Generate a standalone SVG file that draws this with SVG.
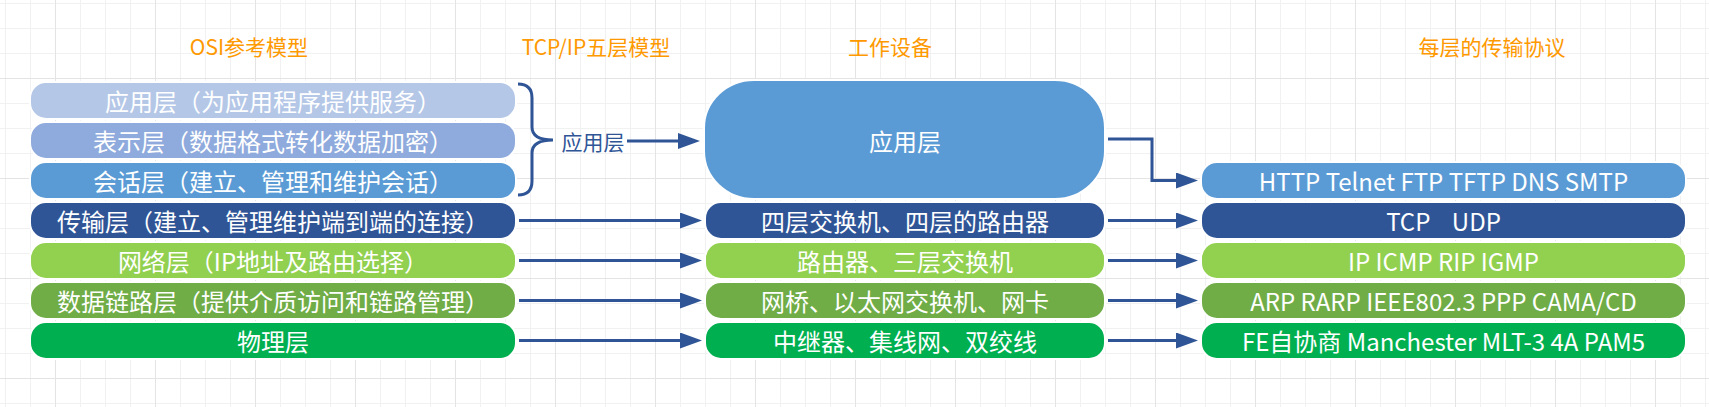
<svg xmlns="http://www.w3.org/2000/svg" width="1709" height="407" viewBox="0 0 1709 407">
<style>
.hdr{font-family:"Noto Sans CJK SC","Noto Sans",sans-serif;font-size:21px;fill:#FF9900;text-anchor:middle;dominant-baseline:central}
.t{font-family:"Noto Sans CJK SC","Noto Sans",sans-serif;font-size:24px;fill:#ffffff;text-anchor:middle;dominant-baseline:central;white-space:pre}
.box{stroke:#ffffff;stroke-width:2}
.conn{fill:none;stroke:#2F5597;stroke-width:3}
.lbl{font-family:"Noto Sans CJK SC","Noto Sans",sans-serif;font-size:21px;fill:#2F5597;text-anchor:middle;dominant-baseline:central}
</style>
<defs>
<pattern id="minor" x="5" y="3" width="25" height="25" patternUnits="userSpaceOnUse">
<path d="M0.5 0V25M0 0.5H25" stroke="#f1f1f1" stroke-width="1" fill="none"/>
</pattern>
<pattern id="major" x="55" y="78" width="100" height="100" patternUnits="userSpaceOnUse">
<path d="M0.5 0V100M0 0.5H100" stroke="#e4e4e4" stroke-width="1" fill="none"/>
</pattern>
<marker id="arr" markerUnits="userSpaceOnUse" markerWidth="22" markerHeight="16" refX="0" refY="8" orient="auto">
<path d="M0,0 L22,8 L0,16 z" fill="#2F5597"/>
</marker>
</defs>
<rect width="1709" height="407" fill="#ffffff"/>
<rect width="1709" height="407" fill="url(#minor)"/>
<rect width="1709" height="407" fill="url(#major)"/>

<g id="headers">
<text class="hdr" x="249" y="46">OSI参考模型</text>
<text class="hdr" x="596" y="46">TCP/IP五层模型</text>
<text class="hdr" x="890" y="46">工作设备</text>
<text class="hdr" x="1492" y="46">每层的传输协议</text>
</g>

<g id="osi-app"><rect class="box" x="30" y="82" width="486" height="37" rx="16" fill="#B4C7E7"/><text class="t" x="273" y="100.5">应用层（为应用程序提供服务）</text></g>
<g id="osi-pres"><rect class="box" x="30" y="122" width="486" height="37" rx="16" fill="#8FAADC"/><text class="t" x="273" y="140.5">表示层（数据格式转化数据加密）</text></g>
<g id="osi-sess"><rect class="box" x="30" y="162" width="486" height="37" rx="16" fill="#5B9BD5"/><text class="t" x="273" y="180.5">会话层（建立、管理和维护会话）</text></g>
<g id="osi-trans"><rect class="box" x="30" y="202" width="486" height="37" rx="16" fill="#2F5597"/><text class="t" x="273" y="220.5">传输层（建立、管理维护端到端的连接）</text></g>
<g id="osi-net"><rect class="box" x="30" y="242" width="486" height="37" rx="16" fill="#92D050"/><text class="t" x="273" y="260.5">网络层（IP地址及路由选择）</text></g>
<g id="osi-link"><rect class="box" x="30" y="282" width="486" height="37" rx="16" fill="#70AD47"/><text class="t" x="273" y="300.5">数据链路层（提供介质访问和链路管理）</text></g>
<g id="osi-phy"><rect class="box" x="30" y="322" width="486" height="37" rx="16" fill="#00B050"/><text class="t" x="273" y="340.5">物理层</text></g>

<g id="brace"><path class="conn" d="M518,84 Q532,84 532,98 L532,127 Q532,140 553,140 Q532,140 532,153 L532,181 Q532,195 518,195"/></g>

<g id="dev-app"><rect class="box" x="704" y="80" width="401" height="119" rx="50" ry="48" fill="#5B9BD5"/><text class="t" x="905" y="140">应用层</text></g>
<g id="dev-trans"><rect class="box" x="705" y="202" width="400" height="37" rx="16" fill="#2F5597"/><text class="t" x="905" y="220.5">四层交换机、四层的路由器</text></g>
<g id="dev-net"><rect class="box" x="705" y="242" width="400" height="37" rx="16" fill="#92D050"/><text class="t" x="905" y="260.5">路由器、三层交换机</text></g>
<g id="dev-link"><rect class="box" x="705" y="282" width="400" height="37" rx="16" fill="#70AD47"/><text class="t" x="905" y="300.5">网桥、以太网交换机、网卡</text></g>
<g id="dev-phy"><rect class="box" x="705" y="322" width="400" height="37" rx="16" fill="#00B050"/><text class="t" x="905" y="340.5">中继器、集线网、双绞线</text></g>

<g id="proto-app"><rect class="box" x="1201" y="162" width="485" height="37" rx="16" fill="#5B9BD5"/><text class="t" x="1443.5" y="180.5">HTTP Telnet FTP TFTP DNS SMTP</text></g>
<g id="proto-trans"><rect class="box" x="1201" y="202" width="485" height="37" rx="16" fill="#2F5597"/><text class="t" x="1443.5" y="220.5">TCP    UDP</text></g>
<g id="proto-net"><rect class="box" x="1201" y="242" width="485" height="37" rx="16" fill="#92D050"/><text class="t" x="1443.5" y="260.5">IP ICMP RIP IGMP</text></g>
<g id="proto-link"><rect class="box" x="1201" y="282" width="485" height="37" rx="16" fill="#70AD47"/><text class="t" x="1443.5" y="300.5">ARP RARP IEEE802.3 PPP CAMA/CD</text></g>
<g id="proto-phy"><rect class="box" x="1201" y="322" width="485" height="37" rx="16" fill="#00B050"/><text class="t" x="1443.5" y="340.5">FE自协商 Manchester MLT-3 4A PAM5</text></g>

<g id="connectors">
<text class="lbl" x="593" y="141">应用层</text>
<path class="conn" d="M627,141 L678,141" marker-end="url(#arr)"/>
<path class="conn" d="M519,220.5 L680,220.5" marker-end="url(#arr)"/>
<path class="conn" d="M519,260.5 L680,260.5" marker-end="url(#arr)"/>
<path class="conn" d="M519,300.5 L680,300.5" marker-end="url(#arr)"/>
<path class="conn" d="M519,340.5 L680,340.5" marker-end="url(#arr)"/>
<path class="conn" d="M1108,139 L1152,139 L1152,180.5 L1176,180.5" marker-end="url(#arr)"/>
<path class="conn" d="M1108,220.5 L1176,220.5" marker-end="url(#arr)"/>
<path class="conn" d="M1108,260.5 L1176,260.5" marker-end="url(#arr)"/>
<path class="conn" d="M1108,300.5 L1176,300.5" marker-end="url(#arr)"/>
<path class="conn" d="M1108,340.5 L1176,340.5" marker-end="url(#arr)"/>
</g>
</svg>
